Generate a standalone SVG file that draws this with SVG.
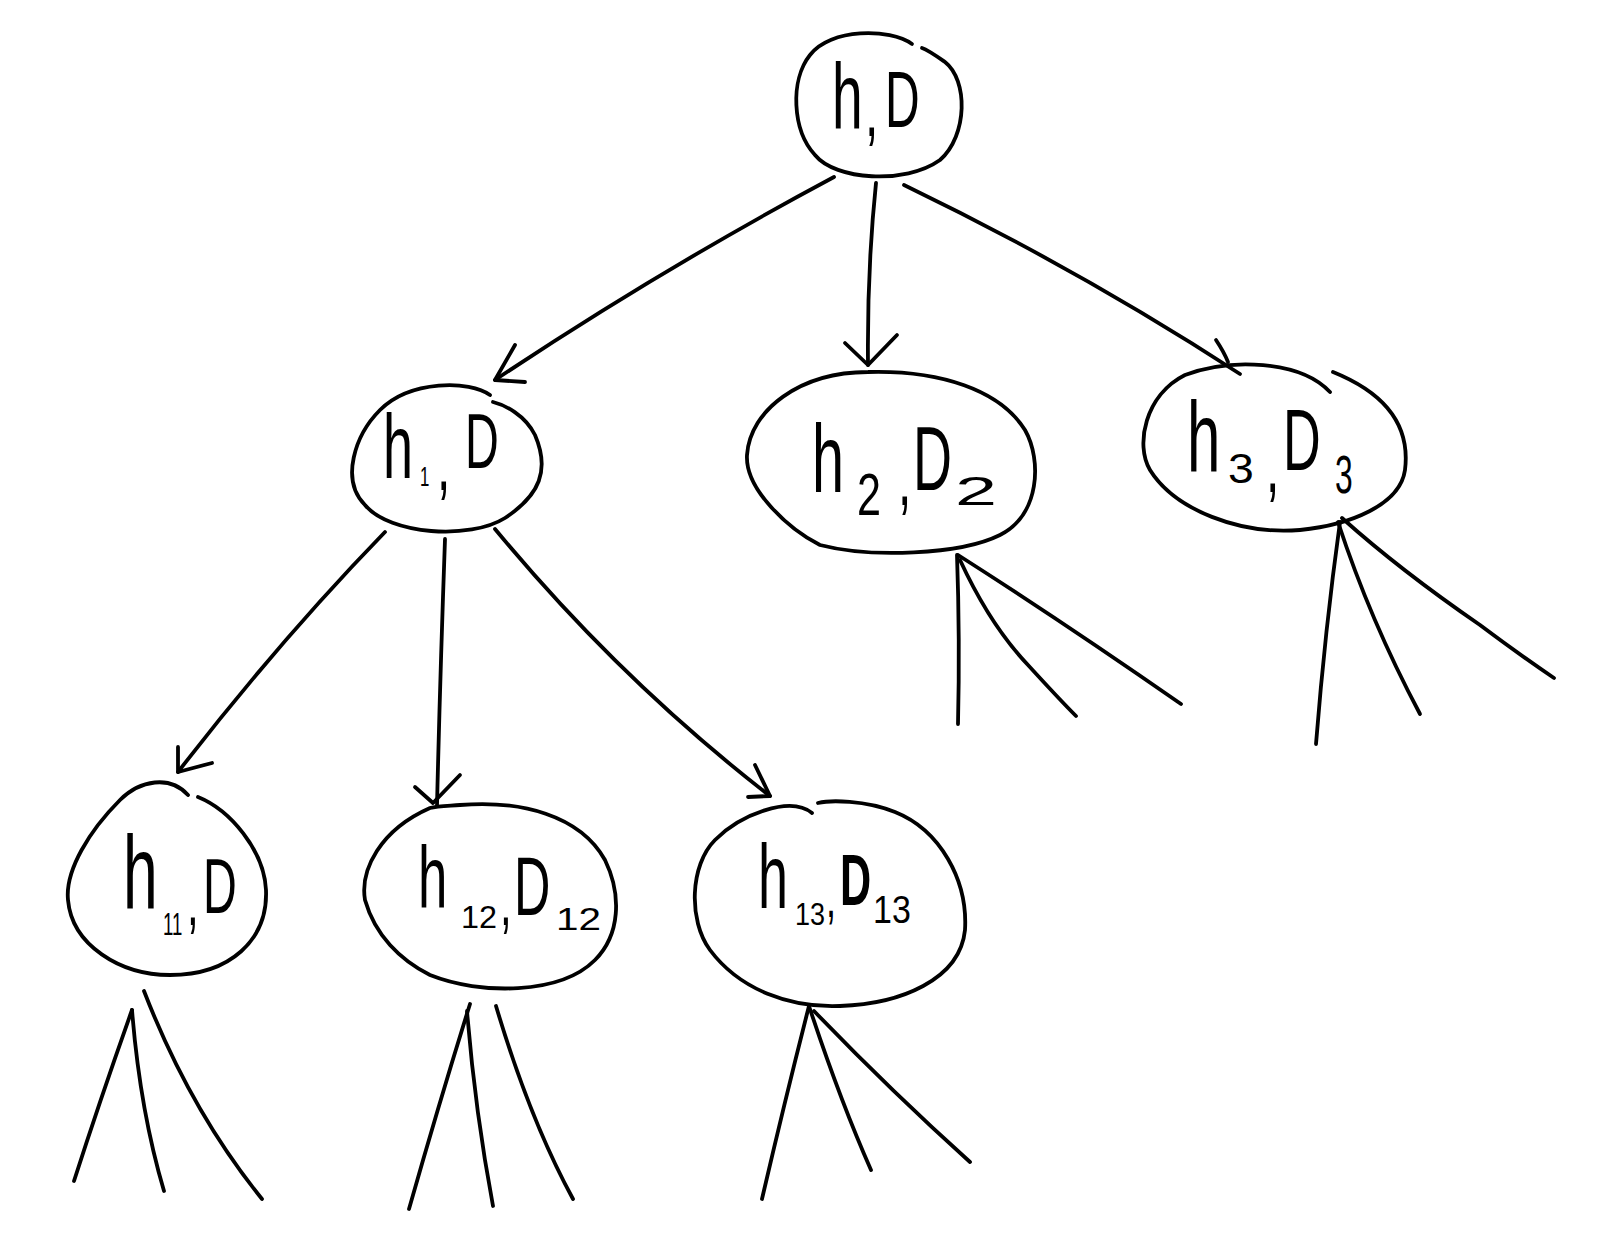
<svg xmlns="http://www.w3.org/2000/svg" width="1610" height="1252" viewBox="0 0 1610 1252">
<style>
.ln{fill:none;stroke:#000;stroke-width:3.8;stroke-linecap:round;stroke-linejoin:round}
.t{font-family:"Liberation Sans",Arial,sans-serif;fill:#000}
</style>
<rect width="1610" height="1252" fill="#fff"/>
<g id="connectors">
  <path class="ln" d="M834,177 Q660,270 495,380"/>
  <path class="ln" d="M515,345 L495,380 L525,382"/>
  <path class="ln" d="M876,183 Q867,270 868,365"/>
  <path class="ln" d="M845,343 L868,365 L897,335"/>
  <path class="ln" d="M904,185 Q1080,270 1240,374"/>
  <path class="ln" d="M1216,340 Q1224,352 1228,362"/>
  <path class="ln" d="M385,532 Q280,640 178,772"/>
  <path class="ln" d="M178,747 L178,772 L212,763"/>
  <path class="ln" d="M445,539 Q440,680 437,806"/>
  <path class="ln" d="M415,787 L433,803 L460,775"/>
  <path class="ln" d="M495,529 Q620,680 770,796"/>
  <path class="ln" d="M755,765 L770,796 L748,797"/>
  <path class="ln" d="M957,555 Q960,640 958,724"/>
  <path class="ln" d="M960,560 Q990,625 1028,665 Q1060,700 1076,716"/>
  <path class="ln" d="M958,555 Q1060,620 1181,704"/>
  <path class="ln" d="M1340,522 Q1325,630 1316,744"/>
  <path class="ln" d="M1338,522 Q1370,620 1420,714"/>
  <path class="ln" d="M1342,518 Q1400,570 1480,625 Q1520,655 1554,678"/>
  <path class="ln" d="M132,1010 Q100,1100 74,1181"/>
  <path class="ln" d="M132,1010 Q140,1110 164,1191"/>
  <path class="ln" d="M144,991 Q190,1110 262,1199"/>
  <path class="ln" d="M470,1004 Q440,1100 409,1209"/>
  <path class="ln" d="M467,1011 Q475,1110 493,1206"/>
  <path class="ln" d="M496,1006 Q530,1120 573,1199"/>
  <path class="ln" d="M809,1006 Q785,1100 762,1199"/>
  <path class="ln" d="M809,1006 Q840,1100 871,1170"/>
  <path class="ln" d="M814,1011 Q890,1090 970,1162"/>
</g>
<g id="n-root">
  <path class="ln" d="M912,44 C890,28 830,28 810,55 C790,80 792,130 815,155 C835,180 905,185 940,160 C968,135 968,80 945,62 C935,55 928,50 922,48"/>
  <text class="t" transform="scale(0.6,1)"><tspan x="1386.7" y="128" font-size="92">h</tspan><tspan x="1441.7" y="136" font-size="80">,</tspan><tspan x="1475" y="127" font-size="80">D</tspan></text>
</g>
<g id="n-h1">
  <path class="ln" d="M490,395 C470,380 410,380 380,410 C355,435 340,480 365,505 C390,535 470,540 505,518 C540,495 550,470 535,435 C525,415 505,405 493,402"/>
  <text class="t" transform="scale(0.6,1)"><tspan x="638.3" y="478" font-size="90">h</tspan><tspan x="700" y="486" font-size="28">1</tspan><tspan x="728.3" y="490" font-size="80">,</tspan><tspan x="775" y="468" font-size="78">D</tspan></text>
</g>
<g id="n-h2">
  <path class="ln" d="M868,372 C800,372 750,410 747,455 C745,490 790,530 820,545 C870,558 960,555 1000,535 C1040,515 1042,460 1025,430 C1000,390 940,370 868,372 Z"/>
  <text class="t" transform="scale(0.6,1)"><tspan x="1353.3" y="492" font-size="96">h</tspan><tspan x="1428.3" y="515" font-size="60" textLength="40" lengthAdjust="spacingAndGlyphs">2</tspan><tspan x="1496.7" y="505" font-size="80">,</tspan><tspan x="1521.7" y="490" font-size="90">D</tspan><tspan x="1591.7" y="505" font-size="40" textLength="70" lengthAdjust="spacingAndGlyphs">2</tspan></text>
</g>
<g id="n-h3">
  <path class="ln" d="M1330,392 C1300,360 1230,358 1185,375 C1145,395 1135,445 1150,470 C1175,510 1240,535 1300,530 C1350,525 1400,505 1405,470 C1410,430 1390,395 1333,372"/>
  <text class="t" transform="scale(0.6,1)"><tspan x="1978.3" y="472" font-size="100">h</tspan><tspan x="2046.7" y="483" font-size="42" textLength="43" lengthAdjust="spacingAndGlyphs">3</tspan><tspan x="2110" y="492" font-size="80">,</tspan><tspan x="2138.3" y="470" font-size="87">D</tspan><tspan x="2225" y="493" font-size="53">3</tspan></text>
</g>
<g id="n-h11">
  <path class="ln" d="M188,795 C170,775 140,780 120,800 C90,830 65,870 68,900 C72,945 120,975 170,975 C230,975 268,940 266,890 C264,850 230,810 198,797"/>
  <text class="t" transform="scale(0.6,1)"><tspan x="205" y="908" font-size="104">h</tspan><tspan x="271.7" y="935" font-size="31">11</tspan><tspan x="311.7" y="925" font-size="70">,</tspan><tspan x="338.3" y="913" font-size="78">D</tspan></text>
</g>
<g id="n-h12">
  <path class="ln" d="M430,808 C380,830 360,870 365,900 C375,935 400,960 430,975 C480,995 560,995 595,960 C620,935 622,895 605,860 C580,815 520,800 460,805 C445,806 437,806 430,808 Z"/>
  <text class="t" transform="scale(0.6,1)"><tspan x="696.7" y="907" font-size="88">h</tspan><tspan x="768.3" y="928" font-size="32" textLength="60" lengthAdjust="spacingAndGlyphs">12</tspan><tspan x="833.3" y="925" font-size="70">,</tspan><tspan x="856.7" y="915" font-size="84">D</tspan><tspan x="926.7" y="930" font-size="31" textLength="75" lengthAdjust="spacingAndGlyphs">12</tspan></text>
</g>
<g id="n-h13">
  <path class="ln" d="M812,813 C790,795 740,815 715,840 C690,865 688,920 710,950 C740,990 790,1008 840,1006 C900,1004 960,980 965,930 C968,880 940,830 895,812 C865,800 830,800 818,803"/>
  <text class="t" transform="scale(0.6,1)"><tspan x="1263.3" y="908" font-size="90">h</tspan><tspan x="1325" y="925" font-size="31" textLength="50" lengthAdjust="spacingAndGlyphs">13</tspan><tspan x="1376.7" y="917" font-size="60">,</tspan><tspan x="1400" y="905" font-size="72" font-weight="bold">D</tspan><tspan x="1455" y="923" font-size="39" textLength="63" lengthAdjust="spacingAndGlyphs">13</tspan></text>
</g>
</svg>
